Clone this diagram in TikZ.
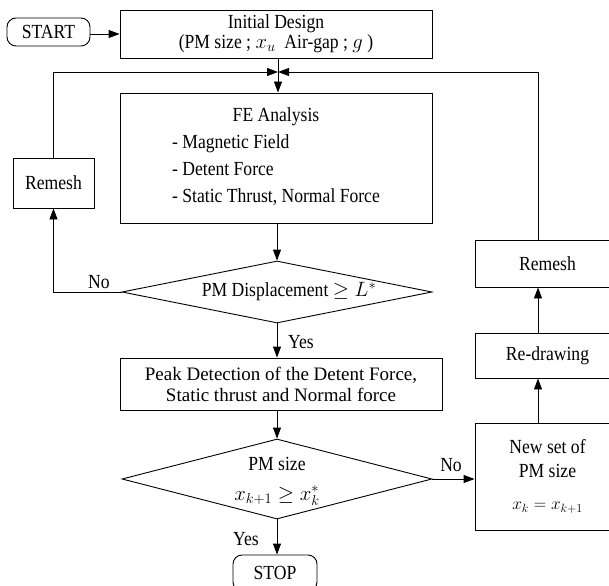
\documentclass[tikz,border=0pt]{standalone}
\usepackage{fontspec}
\setmainfont{Liberation Serif}[FakeStretch=0.88]
\newfontfamily\widefont{Liberation Serif}
\usetikzlibrary{shapes.geometric,arrows.meta}
\begin{document}
\begin{tikzpicture}[x=1pt,y=-1pt,
 every node/.style={font=\fontsize{20}{22}\selectfont},
 box/.style={draw, line width=0.9pt, inner sep=0pt, align=center},
 term/.style={box, rounded corners=9pt},
 dia/.style={diamond, draw, line width=0.9pt, inner sep=0pt},
 txt/.style={inner sep=0pt, align=center},
 conn/.style={line width=0.9pt},
 arr/.style={conn, -{Triangle[length=11pt,width=8pt]}}]
\clip (0,0) rectangle (609,585);
% nodes
\node[term, minimum width=83pt, minimum height=28pt] (start) at (48.5,32) {START};
\node[box, minimum width=312pt, minimum height=48pt] (init) at (276,34) {Initial Design\\[-2pt](PM size ; $x_u$\ \ Air-gap ; $g$ )};
\node[box, minimum width=312pt, minimum height=130pt] (fe) at (276,158) {\begin{tabular}{@{}l@{}}\multicolumn{1}{@{}c@{}}{FE Analysis}\\[5pt] - Magnetic Field\\[5pt] - Detent Force\\[5pt] - Static Thrust, Normal Force\end{tabular}};
\node[box, minimum width=81pt, minimum height=50pt] (lrem) at (53.5,183) {Remesh};
\node[dia, minimum width=310pt, minimum height=62pt] (d1) at (277,292) {};
\node[txt] (d1t) at (289,292) {PM Displacement $\geq L^{*}$};
\node[box, minimum width=322pt, minimum height=52pt, font=\fontsize{19}{22}\widefont] (peak) at (281,384) {Peak Detection of the Detent Force,\\[-1pt]Static thrust and Normal force};
\node[dia, minimum width=310pt, minimum height=80pt] (d2) at (277,479) {};
\node[txt] (d2t) at (277,481) {PM size\\[8pt]$x_{k+1} \geq x_k^{*}$};
\node[term, minimum width=84pt, minimum height=36pt] (stop) at (275,573) {STOP};
\node[box, minimum width=145pt, minimum height=107pt] (newset) at (547.5,476.5) {New set of\\[2pt]PM size\\[10pt]{\fontsize{17}{20}\selectfont$x_k = x_{k+1}$}};
\node[box, minimum width=145pt, minimum height=45pt] (redraw) at (547.5,355.5) {Re-drawing};
\node[box, minimum width=145pt, minimum height=47pt] (rrem) at (547.5,263.5) {Remesh};
% labels
\node[txt] (no1) at (99,282) {No};
\node[txt] (yes1) at (301,342) {Yes};
\node[txt] (yes2) at (246,539) {Yes};
\node[txt] (no2) at (451,465) {No};
% coordinates
\coordinate (m) at (278,72);
\coordinate (rx) at (538,72);
% connectors
\draw[arr] (start.east |- init.center) -- (init.west);
\draw[arr] (m |- init.south) -- (m |- fe.north);
\draw[arr] (lrem.north) -- (lrem.north |- m) -- (m);
\draw[arr] (rx |- rrem.north) -- (rx) -- (m);
\draw[arr] (d1.north |- fe.south) -- (d1.north);
\draw[arr] (d1.west) -- (d1.west -| lrem.south) -- (lrem.south);
\draw[arr] (d1.south) -- (d1.south |- peak.north);
\draw[arr] (d2.north |- peak.south) -- (d2.north);
\draw[arr] (d2.south) -- (d2.south |- stop.north);
\draw[arr] (d2.east) -- (d2.east -| newset.west);
\draw[arr] (rx |- newset.north) -- (rx |- redraw.south);
\draw[arr] (rx |- redraw.north) -- (rx |- rrem.south);
\end{tikzpicture}
\end{document}
